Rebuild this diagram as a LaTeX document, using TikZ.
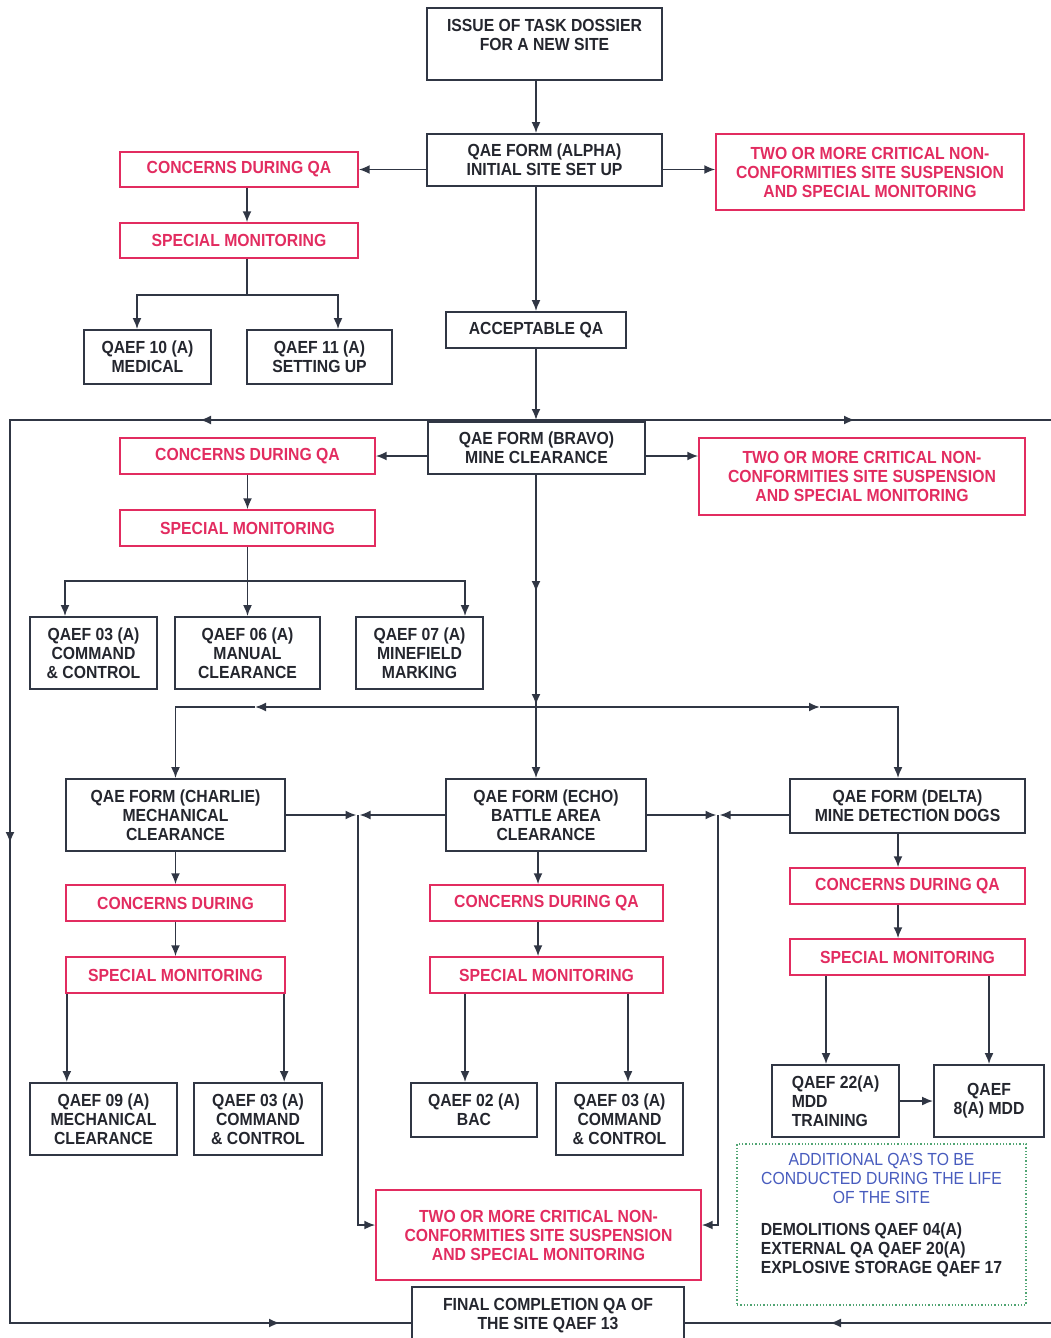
\documentclass[tikz,border=0pt]{standalone}
\usepackage{fontspec}
\setmainfont{Liberation Sans}[FakeStretch=0.9]
\usepackage{tikz}
\usetikzlibrary{arrows.meta}

\definecolor{lnc}{RGB}{48,54,68}
\definecolor{txtc}{RGB}{36,38,46}
\definecolor{redc}{RGB}{226,44,96}
\definecolor{bluec}{RGB}{72,92,190}
\definecolor{grnc}{RGB}{80,165,115}

\begin{document}
\begin{tikzpicture}[x=1pt,y=-1pt,
    every node/.style={font=\fontsize{17.5}{19}\selectfont\bfseries, align=center, inner sep=1pt},
    blk/.style={draw=lnc, line width=1.8pt, text=txtc},
    redbox/.style={draw=redc, line width=1.4pt, text=redc},
    ln/.style={draw=lnc, line width=1.9pt},
    arr/.style={draw=lnc, line width=1.9pt, -{Latex[length=11pt,width=9pt]}}]
    \useasboundingbox (0,0) rectangle (1051,1338);

    %Main column
    \node[blk, minimum width=235, minimum height=72] (dossier) at (544.5,44) {ISSUE OF TASK DOSSIER\\FOR A NEW SITE\\~};
    \node[blk, minimum width=235, minimum height=52] (alpha) at (544.5,160) {QAE FORM (ALPHA)\\INITIAL SITE SET UP};
    \node[blk, minimum width=180, minimum height=36] (acc) at (536,330) {ACCEPTABLE QA};
    \node[blk, minimum width=217, minimum height=52] (bravo) at (536.5,448) {QAE FORM (BRAVO)\\MINE CLEARANCE};

    %Alpha branch
    \node[redbox, minimum width=238, minimum height=35] (concerns1) at (239,169.5) {CONCERNS DURING QA};
    \node[redbox, minimum width=308, minimum height=76] (twoA) at (870,172) {TWO OR MORE CRITICAL NON-\\CONFORMITIES SITE SUSPENSION\\AND SPECIAL MONITORING};
    \node[redbox, minimum width=238, minimum height=35] (special1) at (239,240.5) {SPECIAL MONITORING};
    \node[blk, minimum width=127, minimum height=54] (q10) at (147.5,357) {QAEF 10 (A)\\MEDICAL};
    \node[blk, minimum width=145, minimum height=54] (q11) at (319.5,357) {QAEF 11 (A)\\SETTING UP};

    %Bravo branch
    \node[redbox, minimum width=255, minimum height=36] (concerns2) at (247.5,456) {CONCERNS DURING QA};
    \node[redbox, minimum width=326, minimum height=77] (twoB) at (862,476.5) {TWO OR MORE CRITICAL NON-\\CONFORMITIES SITE SUSPENSION\\AND SPECIAL MONITORING};
    \node[redbox, minimum width=255, minimum height=36] (special2) at (247.5,528) {SPECIAL MONITORING};
    \node[blk, minimum width=127, minimum height=72] (q03a) at (93.5,653) {QAEF 03 (A)\\COMMAND\\\& CONTROL};
    \node[blk, minimum width=145, minimum height=72] (q06) at (247.5,653) {QAEF 06 (A)\\MANUAL\\CLEARANCE};
    \node[blk, minimum width=127, minimum height=72] (q07) at (419.5,653) {QAEF 07 (A)\\MINEFIELD\\MARKING};

    %Charlie, echo, delta
    \node[blk, minimum width=219, minimum height=72] (charlie) at (175.5,815) {QAE FORM (CHARLIE)\\MECHANICAL\\CLEARANCE};
    \node[blk, minimum width=200, minimum height=72] (echo) at (546,815) {QAE FORM (ECHO)\\BATTLE AREA\\CLEARANCE};
    \node[blk, minimum width=235, minimum height=54] (delta) at (907.5,806) {QAE FORM (DELTA)\\MINE DETECTION DOGS};

    \node[redbox, minimum width=219, minimum height=36] (concerns3) at (175.5,903) {CONCERNS DURING};
    \node[redbox, minimum width=219, minimum height=36] (special3) at (175.5,975) {SPECIAL MONITORING};
    \node[redbox, minimum width=233, minimum height=36] (concerns4) at (546.5,903) {CONCERNS DURING QA};
    \node[redbox, minimum width=233, minimum height=36] (special4) at (546.5,975) {SPECIAL MONITORING};
    \node[redbox, minimum width=235, minimum height=36] (concerns5) at (907.5,886) {CONCERNS DURING QA};
    \node[redbox, minimum width=235, minimum height=36] (special5) at (907.5,957) {SPECIAL MONITORING};

    \node[blk, minimum width=147, minimum height=72] (q09) at (103.5,1119) {QAEF 09 (A)\\MECHANICAL\\CLEARANCE};
    \node[blk, minimum width=128, minimum height=72] (q03b) at (258,1119) {QAEF 03 (A)\\COMMAND\\\& CONTROL};
    \node[blk, minimum width=126, minimum height=54] (q02) at (474,1110) {QAEF 02 (A)\\BAC};
    \node[blk, minimum width=127, minimum height=72] (q03c) at (619.5,1119) {QAEF 03 (A)\\COMMAND\\\& CONTROL};
    \node[blk, minimum width=127, minimum height=72, align=left] (q22) at (835.5,1101) {QAEF 22(A)\\MDD\\TRAINING};
    \node[blk, minimum width=110, minimum height=72] (q8) at (989,1101) {QAEF\\8(A) MDD};

    %Bottom
    \node[redbox, minimum width=325, minimum height=90] (twoC) at (538.5,1235) {TWO OR MORE CRITICAL NON-\\CONFORMITIES SITE SUSPENSION\\AND SPECIAL MONITORING};
    \node[blk, minimum width=272, minimum height=72] (final) at (548,1323) {FINAL COMPLETION QA OF\\THE SITE QAEF 13\\~};
    \node[draw=grnc, line width=1.3pt, dotted, minimum width=289, minimum height=161] (addl) at (881.5,1224.5) {};
    \node (addltxt) at (881.5,1216) {\mdseries\color{bluec}ADDITIONAL QA'S TO BE\\\mdseries\color{bluec}CONDUCTED DURING THE LIFE\\\mdseries\color{bluec}OF THE SITE\\[18pt]
        \color{txtc}\begin{tabular}{@{}l@{}}DEMOLITIONS QAEF 04(A)\\EXTERNAL QA QAEF 20(A)\\EXPLOSIVE STORAGE QAEF 17\end{tabular}};

    %Loop round the site
    \coordinate (spine) at (536,0);
    \coordinate (lt) at (10,420);
    \coordinate (rt) at (1051,420);
    \coordinate (lb) at (10,1323);
    \coordinate (rb) at (1051,1323);
    \draw[ln] (rt) -- (lt) -- (lb) -- (final.west);
    \draw[ln] (final.east) -- (rb);
    \draw[arr] (spine |- lt) -- (200,420);
    \draw[arr] (spine |- lt) -- (855,420);
    \draw[arr] (lt) -- (10,843);
    \draw[arr] (lb) -- (280,1323);
    \draw[arr] (rb) -- (830,1323);

    %Top connectors
    \draw[arr] (dossier.south -| spine) -- (alpha.north -| spine);
    \draw[arr] (alpha.west |- concerns1) -- (concerns1.east);
    \draw[arr] (alpha.east |- concerns1) -- (twoA.west |- concerns1);
    \draw[arr] ([xshift=8]concerns1.south) -- ([xshift=8]special1.north);
    \coordinate (s1) at (247,295);
    \draw[ln] ([xshift=8]special1.south) -- (s1);
    \draw[arr] (s1) -| ([xshift=-10.5]q10.north);
    \draw[arr] (s1) -| ([xshift=18.5]q11.north);
    \draw[arr] (alpha.south -| spine) -- (acc.north);
    \draw[arr] (acc.south) -- (acc.south |- lt);

    %Bravo connectors
    \draw[arr] (bravo.west |- concerns2) -- (concerns2.east);
    \draw[arr] (bravo.east |- concerns2) -- (twoB.west |- concerns2);
    \draw[arr] (concerns2) -- (special2);
    \coordinate (s2) at (247.5,581);
    \draw[ln] (special2.south) -- (s2);
    \draw[arr] (s2) -| ([xshift=-28.5]q03a.north);
    \draw[arr] (s2) -- (q06.north);
    \draw[arr] (s2) -| ([xshift=45.5]q07.north);

    %Spine down to the three forms
    \coordinate (j) at (536,707);
    \draw[ln] (bravo.south -| spine) -- (j);
    \draw[arr] (bravo.south -| spine) -- (536,592);
    \draw[arr] (536,592) -- ([yshift=2]j);
    \draw[arr] (j) -- (echo.north -| spine);
    \draw[arr] (j) -- (255,707);
    \draw[arr] (j) -- (820,707);
    \draw[arr] (255,707) -| (charlie.north);
    \draw[arr] (820,707) -| ([xshift=-9.5]delta.north);

    %Side joins into the bottom suspension box
    \coordinate (jl) at (358,815);
    \coordinate (jr) at (718,815);
    \draw[arr] (charlie.east) -- ([xshift=-1.5]jl);
    \draw[arr] (echo.west) -- ([xshift=1.5]jl);
    \draw[arr] (echo.east) -- ([xshift=-1.5]jr);
    \draw[arr] (delta.west |- jr) -- ([xshift=1.5]jr);
    \draw[arr] (jl) |- ([yshift=10]twoC.west);
    \draw[arr] (jr) |- ([yshift=10]twoC.east);

    %Charlie column
    \draw[arr] (charlie) -- (concerns3);
    \draw[arr] (concerns3) -- (special3);
    \draw[arr] ([xshift=1.5]special3.south west) -- ([xshift=1.5]special3.south west |- q09.north);
    \draw[arr] ([xshift=-1.5]special3.south east) -- ([xshift=-1.5]special3.south east |- q03b.north);

    %Echo column
    \draw[arr] ([xshift=-8]echo.south) -- ([xshift=-8.5]concerns4.north);
    \draw[arr] ([xshift=-8.5]concerns4.south) -- ([xshift=-8.5]special4.north);
    \draw[arr] ([xshift=-81.5]special4.south) -- ([xshift=-9]q02.north);
    \draw[arr] ([xshift=81.5]special4.south) -- ([xshift=8.5]q03c.north);

    %Delta column
    \draw[arr] ([xshift=-9.5]delta.south) -- ([xshift=-9.5]concerns5.north);
    \draw[arr] ([xshift=-9.5]concerns5.south) -- ([xshift=-9.5]special5.north);
    \draw[arr] ([xshift=-81.5]special5.south) -- ([xshift=-9.5]q22.north);
    \draw[arr] ([xshift=81.5]special5.south) -- (q8.north);
    \draw[arr] (q22.east) -- (q8.west);
\end{tikzpicture}
\end{document}
